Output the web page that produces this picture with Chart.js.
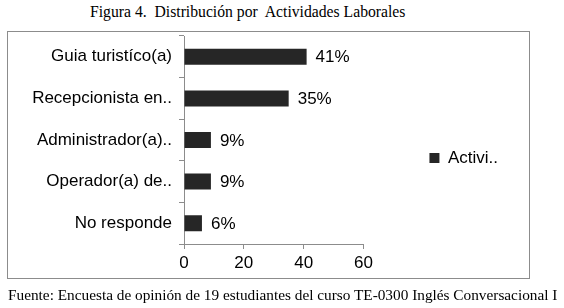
<!DOCTYPE html>
<html>
<head>
<meta charset="utf-8">
<script src="https://cdn.jsdelivr.net/npm/chart.js@4.4.0/dist/chart.umd.min.js"></script>
<style>
  html, body { margin: 0; padding: 0; background: #fff; }
  body { width: 564px; height: 308px; position: relative; overflow: hidden; }
  .frame { position: absolute; left: 7px; top: 31px; width: 521px; height: 246px; border: 1px solid #8c8c8c; }
  .cap { position: absolute; font-family: "Liberation Serif", "Times New Roman", serif; line-height: 16px; white-space: pre; color: #000; }
  #title { left: 90px; top: 4px; font-size: 15.7px; }
  #source { left: 8px; top: 287px; font-size: 15.3px; }
  #wrap { position: absolute; left: 0; top: 0; width: 564px; height: 308px; }
</style>
</head>
<body>
<div id="title" class="cap">Figura 4.  Distribución por  Actividades Laborales</div>
<div class="frame"></div>
<div id="wrap"><canvas id="myChart" width="564" height="308"></canvas></div>
<div id="source" class="cap">Fuente: Encuesta de opinión de 19 estudiantes del curso TE-0300 Inglés Conversacional I</div>
<script>
const categories = ['Guia turistíco(a)', 'Recepcionista en..', 'Administrador(a)..', 'Operador(a) de..', 'No responde'];
const percentages = [41, 35, 9, 9, 6];
const seriesName = 'Activi..';
const xTicks = [0, 20, 40, 60];

const labelFont = { family: '"Liberation Sans", Arial, sans-serif', size: 17 };

// value labels to the right of each bar
const barLabels = {
    id: 'barLabels',
    afterDatasetsDraw(chart) {
        const ctx = chart.ctx;
        const meta = chart.getDatasetMeta(0);
        ctx.save();
        ctx.font = '17px "Liberation Sans", Arial, sans-serif';
        ctx.fillStyle = '#000';
        ctx.textBaseline = 'middle';
        meta.data.forEach((bar, i) => {
            ctx.fillText(percentages[i] + '%', bar.x + 9, bar.y + 1);
        });
        ctx.restore();
    }
};

const ctx = document.getElementById('myChart').getContext('2d');
const myChart = new Chart(ctx, {
    type: 'bar',
    data: {
        labels: categories,
        datasets: [{
            label: seriesName,
            data: percentages,
            backgroundColor: '#262626',
            borderWidth: 0,
            barPercentage: 0.385,
            categoryPercentage: 1
        }]
    },
    options: {
        indexAxis: 'y',
        responsive: false,
        animation: false,
        layout: {
            padding: { left: 0, top: 36, right: 56, bottom: 28 }
        },
        scales: {
            x: {
                min: 0,
                max: 60,
                afterBuildTicks: (s) => { s.ticks = xTicks.map(v => ({ value: v })); },
                afterFit: (s) => { s.height = 36; },
                grid: { drawOnChartArea: false, drawTicks: true, tickLength: 5, color: '#8c8c8c' },
                border: { display: true, color: '#8c8c8c' },
                ticks: { color: '#000', font: labelFont, padding: 4, maxRotation: 0 }
            },
            y: {
                afterFit: (s) => { s.width = 184; },
                grid: { drawOnChartArea: false, drawTicks: true, tickLength: 5, color: '#8c8c8c', offset: true },
                border: { display: true, color: '#8c8c8c' },
                ticks: { color: '#000', font: labelFont, padding: 7, autoSkip: false }
            }
        },
        plugins: {
            legend: {
                position: 'right',
                maxWidth: 200,
                labels: {
                    color: '#000',
                    font: labelFont,
                    boxWidth: 10,
                    boxHeight: 10,
                    padding: 66
                }
            },
            tooltip: { enabled: false }
        }
    },
    plugins: [barLabels]
});
</script>
</body>
</html>
